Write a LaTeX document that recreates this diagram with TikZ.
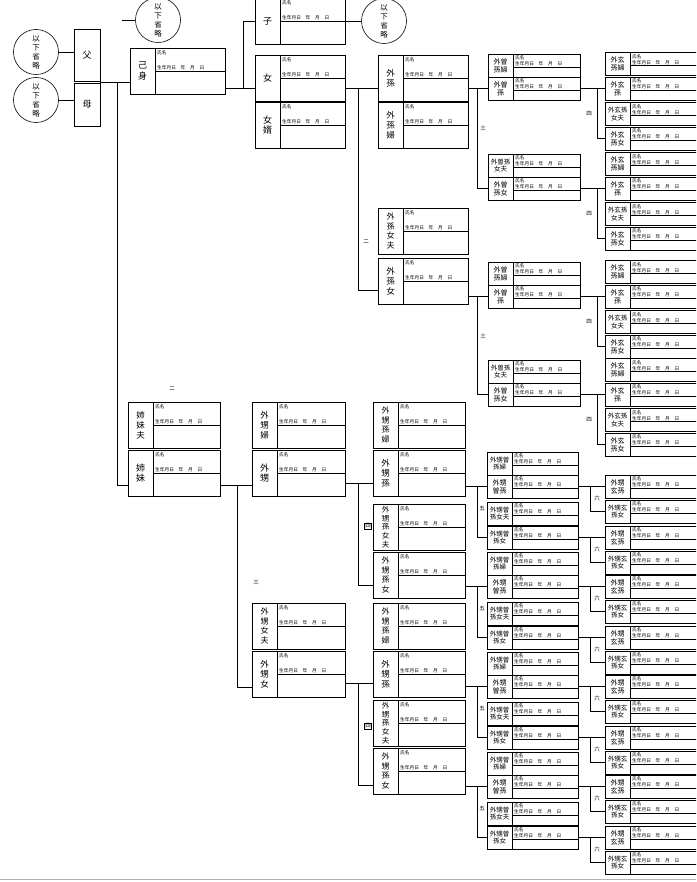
\documentclass[tikz,border=0pt]{standalone}
\usepackage{fontspec}
\newfontfamily\jp{Noto Sans CJK JP}
\usetikzlibrary{calc}
\tikzset{
  pbox/.style={draw, line width=0.6pt, inner sep=0pt, outer sep=0pt},
  innerline/.style={line width=0.55pt},
  conn/.style={line width=0.75pt},
  fieldtxt/.style={inner sep=0pt, font=\jp\fontsize{4.7}{5.4}\selectfont},
  labtxt/.style={inner sep=0pt, align=center},
  degmark/.style={inner sep=0pt, font=\jp\fontsize{5.5}{6}\selectfont},
  ring/.style={circle, draw, line width=0.6pt, minimum size=45pt, inner sep=0pt, align=center, font=\jp\fontsize{7.5}{9}\selectfont},
}
% big person box: name, x, y, width, label, fontsize, baselineskip
\newcommand\PBig[7]{%
  \node[pbox, minimum width=#4pt, minimum height=46pt, anchor=north west] (#1) at (#2,#3) {};
  \draw[innerline] ([xshift=25pt]#1.north west) -- ([xshift=25pt]#1.south west);
  \draw[innerline] ([xshift=25pt]#1.west) -- (#1.east);
  \node[labtxt, font=\jp\fontsize{#6}{#7}\selectfont] (#1-l) at ([xshift=12.5pt]#1.west) {#5};
  \node[fieldtxt, anchor=north west] (#1-n) at ([xshift=27pt,yshift=-2.5pt]#1.north west) {氏名};
  \node[fieldtxt, anchor=south west] (#1-b) at ([xshift=27pt,yshift=1pt]#1.west) {生年月日　年　月　日};
}
% small person box
\newcommand\PSmall[7]{%
  \node[pbox, minimum width=#4pt, minimum height=23pt, anchor=north west] (#1) at (#2,#3) {};
  \draw[innerline] ([xshift=25pt]#1.north west) -- ([xshift=25pt]#1.south west);
  \draw[innerline] ([xshift=25pt,yshift=-13pt]#1.north west) -- ([yshift=-13pt]#1.north east);
  \node[labtxt, font=\jp\fontsize{#6}{#7}\selectfont] (#1-l) at ([xshift=12.5pt]#1.west) {#5};
  \node[fieldtxt, anchor=north west] (#1-n) at ([xshift=27pt,yshift=-1.5pt]#1.north west) {氏名};
  \node[fieldtxt, anchor=south west] (#1-b) at ([xshift=27pt,yshift=-12.3pt]#1.north west) {生年月日　年　月　日};
}
\begin{document}
\begin{tikzpicture}[x=1pt,y=-1pt]
\useasboundingbox (0,0) rectangle (696,882);
\clip (0,0) rectangle (696,882);

% ---------- circles ----------
\node[ring] (cF) at (36,52) {以\\下\\省\\略};
\node[ring] (cM) at (36,100) {以\\下\\省\\略};
\node[ring] (cS) at (158,20) {以\\下\\省\\略};
\node[ring] (cC) at (384,21) {以\\下\\省\\略};

% ---------- father / mother ----------
\node[pbox, minimum width=26pt, minimum height=52pt, anchor=north west, font=\jp\fontsize{9}{10}\selectfont] (Fbox) at (74,29) {父};
\node[pbox, minimum width=26pt, minimum height=43pt, anchor=north west, font=\jp\fontsize{9}{10}\selectfont] (Mbox) at (74,83) {母};

% ---------- top section ----------
\PBig{self}{130}{48}{95}{己\\身}{9}{10.5}
\PBig{son}{255}{-2}{90}{子}{9}{10.5}
\PBig{dau}{255}{55}{90}{女}{9}{10.5}
\PBig{sil}{255}{102}{90}{女\\婿}{9}{10.5}
\PBig{gs}{378}{55}{90}{外\\孫}{8.5}{10}
\PBig{gsw}{378}{102}{90}{外\\孫\\婦}{8.5}{10}
\PBig{gdh}{378}{208}{90}{外\\孫\\女\\夫}{8}{9.5}
\PBig{gd}{378}{258}{90}{外\\孫\\女}{8.5}{10}

\PSmall{D1}{488}{54}{92}{外曽\\孫婦}{7}{8}
\PSmall{D2}{488}{77}{92}{外曽\\孫}{7}{8}
\PSmall{D3}{488}{154}{92}{外曽孫\\女夫}{6.5}{7.5}
\PSmall{D4}{488}{177}{92}{外曽\\孫女}{7}{8}
\PSmall{D5}{488}{262}{92}{外曽\\孫婦}{7}{8}
\PSmall{D6}{488}{285}{92}{外曽\\孫}{7}{8}
\PSmall{D7}{488}{360}{92}{外曽孫\\女夫}{6.5}{7.5}
\PSmall{D8}{488}{383}{92}{外曽\\孫女}{7}{8}

% ---------- lower section ----------
\PBig{sish}{128}{402}{92}{姉\\妹\\夫}{8.5}{10}
\PBig{sis}{128}{450}{92}{姉\\妹}{9}{10.5}
\PBig{nepw}{252}{402}{93}{外\\甥\\婦}{8.5}{10}
\PBig{nep}{252}{450}{93}{外\\甥}{9}{10.5}
\PBig{niech}{252}{603}{93}{外\\甥\\女\\夫}{8}{9.5}
\PBig{niece}{252}{651}{93}{外\\甥\\女}{8.5}{10}

\PBig{gnw1}{373}{402}{92}{外\\甥\\孫\\婦}{8}{9.5}
\PBig{gn1}{373}{450}{92}{外\\甥\\孫}{8.5}{10}
\PBig{gnh1}{373}{504}{92}{外\\甥\\孫\\女\\夫}{7.5}{8.7}
\PBig{gnd1}{373}{552}{92}{外\\甥\\孫\\女}{8}{9.5}
\PBig{gnw2}{373}{603}{92}{外\\甥\\孫\\婦}{8}{9.5}
\PBig{gn2}{373}{651}{92}{外\\甥\\孫}{8.5}{10}
\PBig{gnh2}{373}{700}{92}{外\\甥\\孫\\女\\夫}{7.5}{8.7}
\PBig{gnd2}{373}{748}{92}{外\\甥\\孫\\女}{8}{9.5}

% ---------- connectors, top ----------
\coordinate (cSe) at (122,20);
\draw[conn] (cSe) -- (cS.west);
\draw[conn] (cF.east) -- (Fbox.west |- cF.east);
\draw[conn] (cM.east) -- (Mbox.west |- cM.east);
\coordinate (fm) at ($(Fbox.south east)!0.5!(Mbox.north east)$);
\draw[conn] (fm) -- (self.west |- fm);
\draw[conn] ([xshift=17pt]fm) |- ([yshift=11pt]sis.south west);

\coordinate (jS) at (dau.west |- D2.west);
\draw[conn] (self.east |- jS) -- (jS);
\draw[conn] ([xshift=-12pt]jS) |- (son.west);
\draw[conn] (son.east) -- (cC.west);

\coordinate (jD) at (gs.west |- D2.west);
\draw[conn] (dau.east |- jD) -- (jD);
\draw[conn] ([xshift=-20pt]jD) |- ([yshift=14pt]gd.south west);

\draw[conn] (gs.east |- D2.west) -- (D2.west);
\draw[conn] ([xshift=-11pt]D2.west) |- (D4.west);
\draw[conn] (gd.east |- D6.west) -- (D6.west);
\draw[conn] ([xshift=-11pt]D6.west) |- (D8.west);

\foreach \pn/\cy in {D2/88.5, D4/188.5, D6/296.5, D8/394.5}{
  \PSmall{\pn a}{605}{\cy-36}{95}{外玄\\孫婦}{7}{8}
  \PSmall{\pn b}{605}{\cy-11.5}{95}{外玄\\孫}{7}{8}
  \PSmall{\pn c}{605}{\cy+14}{95}{外玄孫\\女夫}{6.5}{7.5}
  \PSmall{\pn d}{605}{\cy+38.5}{95}{外玄\\孫女}{7}{8}
  \draw[conn] (\pn.east) -- (\pn b.west);
  \draw[conn] ([xshift=-8pt]\pn b.west) |- (\pn d.west);
  \node[degmark] (\pn m) at (589,\cy+25) {四};
}

% ---------- connectors, lower ----------
\coordinate (jN) at ([yshift=11pt]nep.south west);
\draw[conn] (sis.east |- jN) -- (jN);
\draw[conn] ([xshift=-15pt]jN) |- ([yshift=10pt]niece.south west);
\coordinate (jG1) at ([yshift=13pt]gn1.south west);
\draw[conn] (nep.east |- jG1) -- (jG1);
\draw[conn] ([xshift=-15pt]jG1) |- ([yshift=13pt]gnd1.south west);
\coordinate (jG2) at ([yshift=14pt]gn2.south west);
\draw[conn] (niece.east |- jG2) -- (jG2);
\draw[conn] ([xshift=-15pt]jG2) |- ([yshift=9pt]gnd2.south west);

\foreach \gi/\src in {0/gn1,1/gnd1,2/gn2,3/gnd2}{
  \pgfmathsetmacro\yb{452+100*\gi}
  \PSmall{L\gi w}{487}{\yb}{91}{外甥曽\\孫婦}{6.5}{7.5}
  \PSmall{L\gi p}{487}{\yb+23}{91}{外甥\\曽孫}{7}{8}
  \PSmall{L\gi h}{487}{\yb+50}{91}{外甥曽\\孫女夫}{6.5}{7.5}
  \PSmall{L\gi d}{487}{\yb+74}{91}{外甥曽\\孫女}{6.5}{7.5}
  \draw[conn] (\src.east |- L\gi p.west) -- (L\gi p.west);
  \draw[conn] ([xshift=-10pt]L\gi p.west) |- (L\gi d.west);
  \node[degmark] (L\gi m) at (482,\yb+57) {五};
  \foreach \q/\qc in {p/34.5, d/85.5}{
    \PSmall{F\gi\q a}{605}{\yb+\qc-11.5}{95}{外甥\\玄孫}{7}{8}
    \PSmall{F\gi\q b}{605}{\yb+\qc+13.5}{95}{外甥玄\\孫女}{6.5}{7.5}
    \draw[conn] (L\gi\q.east) -- (F\gi\q a.west);
    \draw[conn] ([xshift=-15pt]F\gi\q a.west) |- (F\gi\q b.west);
    \node[degmark] (F\gi\q m) at (597,\yb+\qc+12) {六};
  }
}

% ---------- degree marks ----------
\node[degmark] (m1) at (172,389) {二};
\node[degmark] (m2) at (366,242) {二};
\node[degmark] (m3) at (256,582) {三};
\node[degmark] (m4) at (483,128) {三};
\node[degmark] (m5) at (483,336) {三};
\node[degmark, draw, inner sep=0.6pt, line width=0.4pt] (m6) at (368,526) {四};
\node[degmark, draw, inner sep=0.6pt, line width=0.4pt] (m7) at (368,726) {四};

% ---------- page edge ----------
\coordinate (bl) at (0,879);
\coordinate (br) at (696,879);
\draw[gray!60, line width=0.6pt] (bl) -- (br);
\end{tikzpicture}
\end{document}
